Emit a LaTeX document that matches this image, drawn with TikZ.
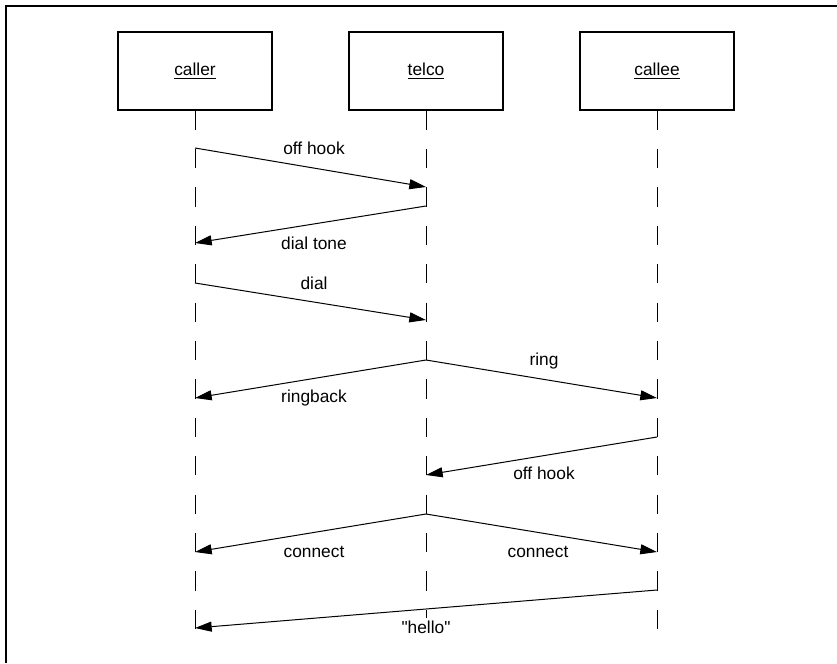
\documentclass[tikz,border=0pt]{standalone}
\usepackage{fontspec}
\setmainfont{Liberation Sans}
\usetikzlibrary{arrows.meta}
\begin{document}
\begin{tikzpicture}[x=0.75pt, y=-0.75pt, font=\fontsize{13}{15}\selectfont,
  obj/.style={draw, line width=0.9pt, minimum width=115.5pt, minimum height=58.5pt, inner sep=0pt},
  life/.style={line width=0.75pt, dash pattern=on 14.4pt off 14.4pt},
  msg/.style={line width=0.75pt, -{Triangle[length=12.5pt, width=7.5pt]}},
  lbl/.style={anchor=base, fill=white, inner sep=1.5pt}]
\useasboundingbox (0,0) rectangle (837,663);
\draw[line width=1.5pt] (837,6) -- (6,6) -- (6,663);
\node[obj] (caller) at (195,71) {\underline{caller}};
\node[obj] (telco) at (426,71) {\underline{telco}};
\node[obj] (callee) at (657,71) {\underline{callee}};
\coordinate (callerEnd) at (195,630);
\coordinate (telcoEnd) at (426,630);
\coordinate (calleeEnd) at (657,630);
\draw[life] (caller) -- (callerEnd);
\draw[life] (telco) -- (telcoEnd);
\draw[life] (callee) -- (calleeEnd);
% message ends on the lifelines
\coordinate (c1) at (195,148); \coordinate (t1) at (426,187);
\coordinate (t2) at (426,206); \coordinate (c2) at (195,243);
\coordinate (c3) at (195,283); \coordinate (t3) at (426,320);
\coordinate (t4) at (426,360); \coordinate (c4) at (195,398); \coordinate (e4) at (657,398);
\coordinate (e5) at (657,437); \coordinate (t5) at (426,475);
\coordinate (t6) at (426,514); \coordinate (c6) at (195,552); \coordinate (e6) at (657,552);
\coordinate (e7) at (657,590); \coordinate (c7) at (195,628);
% labels
\node[lbl] (offhook) at (314,154) {off hook};
\node[lbl] (dialtone) at (314,249) {dial tone};
\node[lbl] (dial) at (314,289) {dial};
\node[lbl] (ringback) at (314,402) {ringback};
\node[lbl] (ring) at (544,365) {ring};
\node[lbl] (offhook2) at (544,479) {off hook};
\node[lbl] (connect) at (314,557) {connect};
\node[lbl] (connect2) at (538,557) {connect};
\node[lbl] (hello) at (426,633) {\textquotedbl hello\textquotedbl};
\draw[msg] (c1) -- (t1);
\draw[msg] (t2) -- (c2);
\draw[msg] (c3) -- (t3);
\draw[msg] (t4) -- (c4);
\draw[msg] (t4) -- (e4);
\draw[msg] (e5) -- (t5);
\draw[msg] (t6) -- (c6);
\draw[msg] (t6) -- (e6);
\draw[msg] (e7) -- (c7);
\end{tikzpicture}
\end{document}
